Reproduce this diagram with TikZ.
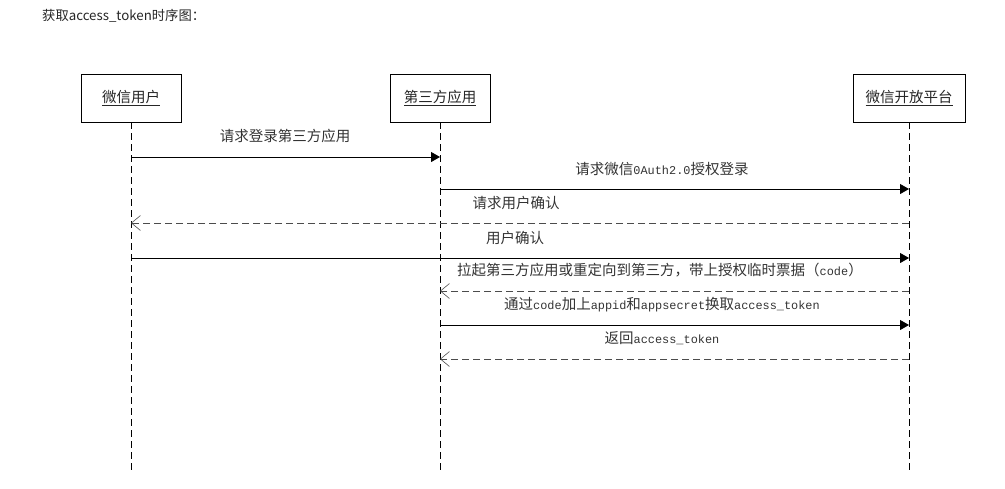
\documentclass[tikz,border=0pt]{standalone}
\usepackage{fontspec}
\setmainfont{Noto Sans CJK SC}
\newfontfamily\lat{Liberation Mono}[Scale=0.82]
\usetikzlibrary{arrows.meta}
\begin{document}
\begin{tikzpicture}[x=1pt,y=-1pt,
  every node/.style={inner sep=0pt},
  actor/.style={draw=black, line width=0.8pt, minimum height=48pt, text=black!85, font=\fontsize{14.5pt}{16pt}\selectfont},
  lifeline/.style={draw=black, line width=0.7pt, dash pattern=on 7pt off 4pt},
  msg/.style={draw=black, line width=0.8pt, -{Triangle[length=9pt,width=10pt]}},
  ret/.style={draw=black!70, line width=0.8pt, dash pattern=on 7pt off 4pt, -{Straight Barb[length=9pt,width=15pt,line width=0.6pt]}},
  lbl/.style={font=\fontsize{14.5pt}{16pt}\selectfont, text=black!80}]
\useasboundingbox (0,0) rectangle (1005,488);
\node[font=\fontsize{13.3pt}{15pt}\selectfont, anchor=west, text=black!85] (title) at (42,16) {获取access\_token时序图：};
% actors
\node[actor, minimum width=100pt] (user) at (131,98) {\underline{微信用户}};
\node[actor, minimum width=100pt] (app) at (440,98) {\underline{第三方应用}};
\node[actor, minimum width=112pt] (wx) at (909,98) {\underline{微信开放平台}};
% lifeline ends
\coordinate (userEnd) at (131,470);
\coordinate (appEnd) at (440,470);
\coordinate (wxEnd) at (909,470);
\draw[lifeline] (user.south) -- (userEnd);
\draw[lifeline] (app.south) -- (appEnd);
\draw[lifeline] (wx.south) -- (wxEnd);
% message points
\coordinate (u1) at (131,157); \coordinate (a1) at (440,157);
\coordinate (a2) at (440,189); \coordinate (w2) at (909,189);
\coordinate (w3) at (909,223); \coordinate (u3) at (131,223);
\coordinate (u4) at (131,258); \coordinate (w4) at (909,258);
\coordinate (w5) at (909,291); \coordinate (a5) at (440,291);
\coordinate (a6) at (440,325); \coordinate (w6) at (909,325);
\coordinate (w7) at (909,359); \coordinate (a7) at (440,359);
% messages
\draw[msg] (u1) -- (a1);
\node[lbl] (l1) at (285,136) {请求登录第三方应用};
\draw[msg] (a2) -- (w2);
\node[lbl] (l2) at (662,169) {请求微信{\lat 0Auth2.0}授权登录};
\draw[ret] (w3) -- (u3);
\node[lbl] (l3) at (516,203) {请求用户确认};
\draw[msg] (u4) -- (w4);
\node[lbl] (l4) at (515,238) {用户确认};
\draw[ret] (w5) -- (a5);
\node[lbl] (l5) at (660,270) {拉起第三方应用或重定向到第三方，带上授权临时票据（{\lat code}）};
\draw[msg] (a6) -- (w6);
\node[lbl] (l6) at (662,305) {通过{\lat code}加上{\lat appid}和{\lat appsecret}换取{\lat access\_token}};
\draw[ret] (w7) -- (a7);
\node[lbl] (l7) at (662,338) {返回{\lat access\_token}};
\end{tikzpicture}
\end{document}
